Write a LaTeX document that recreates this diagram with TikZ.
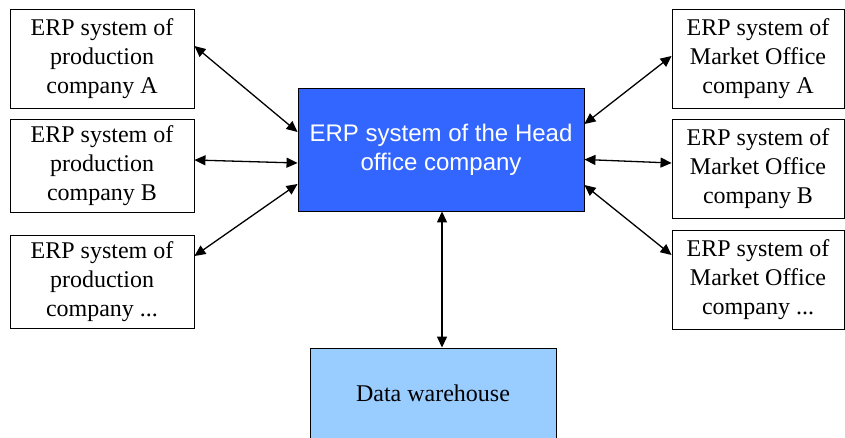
\documentclass[tikz,border=0pt]{standalone}
\usepackage{fontspec}
\setmainfont{Liberation Serif}
\setsansfont{Liberation Sans}
\usetikzlibrary{arrows.meta}
\definecolor{headcol}{HTML}{3366FF}
\definecolor{dwcol}{HTML}{99CCFF}

\begin{document}
\begin{tikzpicture}[
  x=1pt, y=-1pt,
  every node/.style={align=center},
  erpbox/.style={draw, line width=0.9pt, inner sep=0pt, minimum width=184pt,
                 minimum height=93pt, font=\fontsize{24}{29}\selectfont},
  mktbox/.style={erpbox, minimum width=172pt, minimum height=99pt},
  headbox/.style={draw, line width=0.9pt, fill=headcol, text=white, inner sep=0pt,
                  minimum width=286pt, minimum height=123pt,
                  font=\sffamily\fontsize{24}{29}\selectfont},
  dwbox/.style={erpbox, fill=dwcol, minimum width=246pt, minimum height=90pt},
  link/.style={{Triangle[length=11pt,width=10pt]}-{Triangle[length=11pt,width=10pt]},
               line width=1.3pt}
]
\useasboundingbox (0,0) rectangle (845,437);

%% ── Head office ───────────────────────────────────────────────────────────
\node[headbox] (head) at (441, 149.5) {ERP system of the Head\\office company};

%% ── Production companies ──────────────────────────────────────────────────
\node[erpbox, minimum height=99pt] (prodA) at (102, 58.5)  {ERP system of\\production\\company A};
\node[erpbox] (prodB) at (102, 165.5) {ERP system of\\production\\company B};
\node[erpbox] (prodX) at (102, 281.5) {ERP system of\\production\\company ...};

%% ── Market offices ────────────────────────────────────────────────────────
\node[mktbox] (mktA) at (758, 58.5) {ERP system of\\Market Office\\company A};
\node[mktbox] (mktB) at (758, 169)  {ERP system of\\Market Office\\company B};
\node[mktbox] (mktX) at (758, 280)  {ERP system of\\Market Office\\company ...};

%% ── Data warehouse ────────────────────────────────────────────────────────
\node[dwbox] (dw) at (433, 393) {Data warehouse};

%% ── Links ─────────────────────────────────────────────────────────────────
\draw[link] ([yshift=12.5pt]prodA.east) -- ([yshift=17.5pt]head.west);
\draw[link] ([yshift=5.5pt]prodB.east)  -- ([yshift=-13.5pt]head.west);
\draw[link] ([yshift=25.5pt]prodX.east) -- ([yshift=-34.5pt]head.west);

\draw[link] ([yshift=25.5pt]head.east)  -- ([yshift=2.5pt]mktA.west);
\draw[link] ([yshift=-10pt]head.east)   -- ([yshift=6pt]mktB.west);
\draw[link] ([yshift=-35.5pt]head.east) -- ([yshift=25pt]mktX.west);

\draw[link] ([xshift=1pt]head.south) -- ([xshift=1pt]head.south |- dw.north);

\end{tikzpicture}
\end{document}
